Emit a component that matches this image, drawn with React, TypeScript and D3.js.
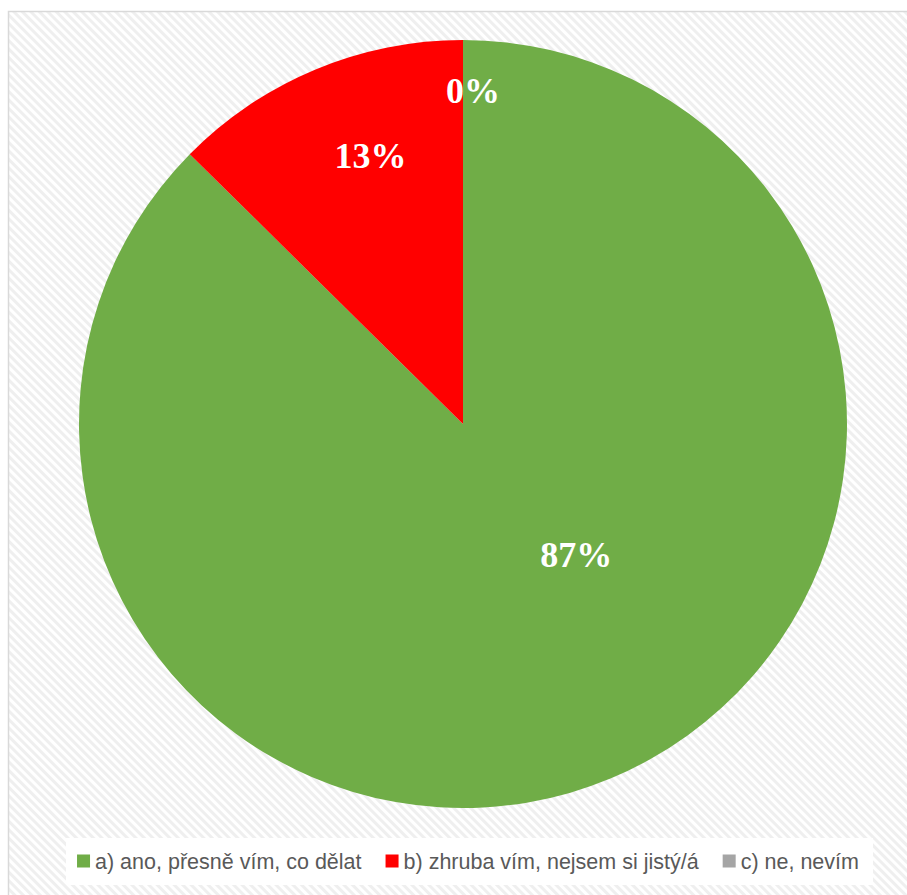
import React, { useEffect, useRef } from "react";
import * as d3 from "d3";

const categories = [
  "a) ano, přesně vím, co dělat",
  "b) zhruba vím, nejsem si jistý/á",
  "c) ne, nevím",
];
const values = [87.4, 12.6, 0];
const colors = ["#70ad47", "#ff0000", "#a5a5a5"];

// label placement (angle in degrees clockwise from 12 o'clock, radius fraction)
const labelPlacement = [
  { angle: 139, r: 0.45 },
  { angle: 341, r: 0.74 },
  { angle: 1.7, r: 0.87 },
];

const W = 907;
const H = 895;
const CX = 463;
const CY = 424;
const R = 384;

export default function App() {
  const ref = useRef<SVGSVGElement | null>(null);

  useEffect(() => {
    const svg = d3.select(ref.current);
    svg.selectAll("*").remove();

    const defs = svg.append("defs");
    const pat = defs
      .append("pattern")
      .attr("id", "hatch")
      .attr("width", 6)
      .attr("height", 6)
      .attr("patternUnits", "userSpaceOnUse")
      .attr("patternTransform", "rotate(-45)");
    pat.append("rect").attr("width", 6).attr("height", 6).attr("fill", "#ffffff");
    pat.append("rect").attr("width", 3).attr("height", 6).attr("fill", "#efefef");

    svg
      .append("rect")
      .attr("x", 8.5)
      .attr("y", 11.5)
      .attr("width", W)
      .attr("height", H)
      .attr("fill", "url(#hatch)")
      .attr("stroke", "#d9d9d9")
      .attr("stroke-width", 1.5);

    const total = d3.sum(values);
    const pie = d3
      .pie<number>()
      .sort(null)
      .value((d) => d);
    const arcs = pie(values);
    const arc = d3.arc<d3.PieArcDatum<number>>().innerRadius(0).outerRadius(R);

    const g = svg.append("g").attr("transform", `translate(${CX},${CY})`);
    g.selectAll("path.slice")
      .data(arcs)
      .join("path")
      .attr("class", "slice")
      .attr("d", arc as any)
      .attr("fill", (_d, i) => colors[i]);

    const fmt = d3.format(".0%");
    g.selectAll("text.lbl")
      .data(arcs)
      .join("text")
      .attr("class", "lbl")
      .attr("x", (_d, i) => d3.pointRadial((labelPlacement[i].angle * Math.PI) / 180, labelPlacement[i].r * R)[0])
      .attr("y", (_d, i) => d3.pointRadial((labelPlacement[i].angle * Math.PI) / 180, labelPlacement[i].r * R)[1])
      .attr("dy", "0.35em")
      .attr("text-anchor", "middle")
      .attr("font-family", "'Liberation Serif', 'Times New Roman', serif")
      .attr("font-weight", "bold")
      .attr("font-size", 36)
      .attr("fill", "#ffffff")
      .text((d) => fmt(d.data / total));

    // legend
    svg
      .append("rect")
      .attr("x", 66)
      .attr("y", 838)
      .attr("width", 807)
      .attr("height", 47)
      .attr("fill", "#ffffff");

    const lg = svg.append("g");
    const sq = 13;
    const gapText = 5;
    const gapItem = 24;
    const items = categories.map((c, i) => {
      const it = lg.append("g");
      it.append("rect")
        .attr("width", sq)
        .attr("height", sq)
        .attr("y", -sq / 2)
        .attr("fill", colors[i]);
      const t = it
        .append("text")
        .attr("x", sq + gapText)
        .attr("dy", "0.35em")
        .attr("font-family", "'Liberation Sans', Arial, sans-serif")
        .attr("font-size", 21.5)
        .attr("fill", "#595959")
        .text(c);
      const w = (t.node() as SVGTextElement).getComputedTextLength();
      return { it, w: sq + gapText + w };
    });
    const totalW = d3.sum(items, (d) => d.w) + gapItem * (items.length - 1);
    let x = 468 - totalW / 2;
    items.forEach((d) => {
      d.it.attr("transform", `translate(${x},861)`);
      x += d.w + gapItem;
    });
  }, []);

  return (
    <svg
      ref={ref}
      width={W}
      height={H}
      style={{ position: "absolute", left: 0, top: 0, display: "block" }}
    />
  );
}
